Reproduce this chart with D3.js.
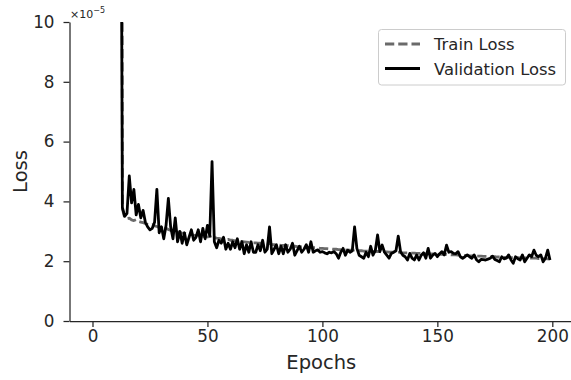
<!DOCTYPE html>
<html>
<head>
<meta charset="utf-8">
<script src="https://cdn.jsdelivr.net/npm/d3@7"></script>
<style>
    html, body { margin: 0; padding: 0; background: #fff; }
    svg { display: block; font-family: "DejaVu Sans", sans-serif; }
</style>
</head>
<body>
<div id="chart"></div>
<script>
/*
 *  Train / validation loss curves (values in units of 1e-5).
 *  Epoch 12 sits above the y limit and gets clipped, like the original.
 */

const firstEpoch = 12;

const trainLoss = [
    80,
    3.75, 3.45, 3.42, 3.44, 3.38, 3.36, 3.39, 3.33, 3.31, 3.29, 3.26, 3.23, 3.21, 3.22, 3.18, 3.16, 3.13,
    3.11, 3.09, 3.10, 3.06, 3.03, 3.01, 3.02, 2.98, 2.96, 2.94, 2.93, 2.91, 2.92, 2.89, 2.87, 2.86, 2.87,
    2.84, 2.83, 2.84, 2.81, 2.82, 2.86, 2.79, 2.77, 2.76, 2.75, 2.74, 2.72, 2.73, 2.70, 2.70, 2.68, 2.69,
    2.67, 2.66, 2.65, 2.64, 2.63, 2.64, 2.61, 2.61, 2.60, 2.60, 2.59, 2.58, 2.57, 2.60, 2.56, 2.55, 2.55,
    2.54, 2.53, 2.53, 2.52, 2.52, 2.51, 2.50, 2.50, 2.49, 2.48, 2.48, 2.47, 2.47, 2.46, 2.46, 2.45, 2.45,
    2.44, 2.43, 2.43, 2.42, 2.42, 2.41, 2.41, 2.40, 2.40, 2.39, 2.39, 2.38, 2.38, 2.37, 2.37, 2.36, 2.38,
    2.36, 2.35, 2.35, 2.34, 2.34, 2.33, 2.33, 2.33, 2.32, 2.33, 2.32, 2.31, 2.31, 2.31, 2.30, 2.30, 2.30,
    2.29, 2.30, 2.29, 2.28, 2.28, 2.28, 2.27, 2.27, 2.27, 2.26, 2.26, 2.26, 2.25, 2.25, 2.25, 2.24, 2.24,
    2.24, 2.23, 2.23, 2.23, 2.22, 2.23, 2.22, 2.21, 2.21, 2.21, 2.20, 2.20, 2.20, 2.19, 2.19, 2.18, 2.18,
    2.18, 2.17, 2.17, 2.17, 2.16, 2.16, 2.16, 2.15, 2.15, 2.15, 2.14, 2.14, 2.14, 2.13, 2.13, 2.13, 2.12,
    2.12, 2.12, 2.12, 2.11, 2.11, 2.11, 2.11, 2.10, 2.10, 2.10, 2.10, 2.09, 2.09, 2.09, 2.09, 2.08, 2.08
];

const valLoss = [
    25,
    3.80, 3.50, 3.60, 4.85, 3.95, 4.40, 3.55, 3.90, 3.45, 3.70, 3.30, 3.15, 3.05, 3.10, 3.30, 4.40, 2.95,
    3.15, 2.75, 3.20, 4.10, 3.15, 2.75, 3.45, 2.65, 3.00, 2.60, 2.95, 2.55, 2.80, 3.05, 2.70, 2.80, 3.05,
    2.65, 3.10, 2.75, 3.20, 2.85, 5.33, 2.65, 2.45, 2.70, 2.60, 2.80, 2.40, 2.60, 2.40, 2.65, 2.45, 2.75,
    2.40, 2.65, 2.25, 2.55, 2.30, 2.65, 2.30, 2.30, 2.55, 2.35, 2.70, 2.30, 2.40, 3.15, 2.25, 2.40, 2.55,
    2.25, 2.50, 2.25, 2.55, 2.30, 2.40, 2.60, 2.20, 2.35, 2.50, 2.30, 2.40, 2.55, 2.30, 2.65, 2.30, 2.35,
    2.38, 2.30, 2.32, 2.28, 2.25, 2.30, 2.28, 2.32, 2.25, 2.10, 2.30, 2.43, 2.20, 2.37, 2.30, 2.35, 3.15,
    2.43, 2.20, 2.15, 2.10, 2.30, 2.15, 2.50, 2.20, 2.35, 2.88, 2.32, 2.54, 2.30, 2.20, 2.10, 2.26, 2.30,
    2.35, 2.84, 2.32, 2.20, 2.15, 2.04, 2.26, 2.10, 2.04, 2.21, 2.04, 2.20, 2.28, 2.10, 2.43, 2.10, 2.20,
    2.26, 2.15, 2.25, 2.32, 2.21, 2.54, 2.30, 2.32, 2.26, 2.25, 2.32, 2.15, 2.10, 2.15, 2.21, 2.15, 2.10,
    2.21, 2.05, 1.98, 2.06, 2.05, 2.04, 2.07, 2.10, 2.17, 2.06, 2.02, 1.98, 2.15, 2.08, 2.10, 2.21, 2.05,
    1.93, 2.15, 2.08, 2.04, 2.21, 1.98, 2.10, 2.21, 2.15, 2.37, 2.20, 2.15, 2.21, 1.98, 2.10, 2.37, 2.04
];

const xTicks = [0, 50, 100, 150, 200];
const yTicks = [0, 2, 4, 6, 8, 10];
const xDomain = [-10, 209];
const yDomain = [0, 10];

const seriesNames = ["Train Loss", "Validation Loss"];

const width = 571;
const height = 380;
const plot = { left: 69.5, right: 573, top: 22, bottom: 321 };
const ink = "#262626";
const trainColor = "#6a6a6a";
const lineWidth = 2.8;

const svg = d3.select("#chart")
    .append("svg")
    .attr("width", width)
    .attr("height", height)
    .attr("viewBox", `0 0 ${width} ${height}`);

const x = d3.scaleLinear().domain(xDomain).range([plot.left, plot.right]);
const y = d3.scaleLinear().domain(yDomain).range([plot.bottom, plot.top]);

svg.append("clipPath")
    .attr("id", "plot-clip")
    .append("rect")
    .attr("x", plot.left)
    .attr("y", plot.top)
    .attr("width", width - plot.left)
    .attr("height", plot.bottom - plot.top);

// axes (left + bottom spines only)
const xAxis = svg.append("g")
    .attr("transform", `translate(0,${plot.bottom})`)
    .call(d3.axisBottom(x).tickValues(xTicks).tickSize(6).tickPadding(3).tickSizeOuter(0));

const yAxis = svg.append("g")
    .attr("transform", `translate(${plot.left},0)`)
    .call(d3.axisLeft(y).tickValues(yTicks).tickSize(6).tickPadding(9).tickSizeOuter(0));

[xAxis, yAxis].forEach((g) => {
    g.select(".domain").attr("stroke", ink).attr("stroke-width", 1.25);
    g.selectAll(".tick line").attr("stroke", ink).attr("stroke-width", 1.25);
    g.selectAll(".tick text")
        .attr("fill", ink)
        .style("font-size", "16.8px")
        .style("font-family", "DejaVu Sans");
});

// offset text ×10^-5
const offset = svg.append("text")
    .attr("x", plot.left + 0.5)
    .attr("y", 17.5)
    .attr("fill", ink)
    .style("font-size", "11px");
offset.append("tspan").text("×10");
offset.append("tspan")
    .attr("dy", -5)
    .style("font-size", "8px")
    .text("−5");

// axis labels
svg.append("text")
    .attr("x", (plot.left + plot.right) / 2)
    .attr("y", 369)
    .attr("text-anchor", "middle")
    .attr("fill", ink)
    .style("font-size", "19.5px")
    .text("Epochs");

svg.append("text")
    .attr("transform", `translate(27,${(plot.top + plot.bottom) / 2}) rotate(-90)`)
    .attr("text-anchor", "middle")
    .attr("fill", ink)
    .style("font-size", "19.5px")
    .text("Loss");

// curves
const line = d3.line()
    .x((_d, i) => x(firstEpoch + i))
    .y((d) => y(d));

const curves = svg.append("g").attr("clip-path", "url(#plot-clip)");

curves.append("path")
    .datum(trainLoss)
    .attr("fill", "none")
    .attr("stroke", trainColor)
    .attr("stroke-width", lineWidth)
    .attr("stroke-dasharray", "9.25,4")
    .attr("stroke-linejoin", "round")
    .attr("d", line);

curves.append("path")
    .datum(valLoss)
    .attr("fill", "none")
    .attr("stroke", "#000")
    .attr("stroke-width", lineWidth)
    .attr("stroke-linejoin", "round")
    .attr("d", line);

// legend
const legend = svg.append("g");

legend.append("rect")
    .attr("x", 378.5)
    .attr("y", 29.5)
    .attr("width", 187)
    .attr("height", 55.5)
    .attr("rx", 3)
    .attr("fill", "#fff")
    .attr("fill-opacity", 0.8)
    .attr("stroke", "#cccccc")
    .attr("stroke-width", 1);

const legendRows = [
    { name: seriesNames[0], color: trainColor, dash: "9.25,4", cy: 44 },
    { name: seriesNames[1], color: "#000", dash: null, cy: 68.5 }
];

legendRows.forEach((row) => {
    legend.append("line")
        .attr("x1", 385)
        .attr("x2", 420)
        .attr("y1", row.cy)
        .attr("y2", row.cy)
        .attr("stroke", row.color)
        .attr("stroke-width", lineWidth)
        .attr("stroke-dasharray", row.dash);
    legend.append("text")
        .attr("x", 434)
        .attr("y", row.cy + 6)
        .attr("fill", ink)
        .style("font-size", "16.4px")
        .text(row.name);
});
</script>
</body>
</html>
